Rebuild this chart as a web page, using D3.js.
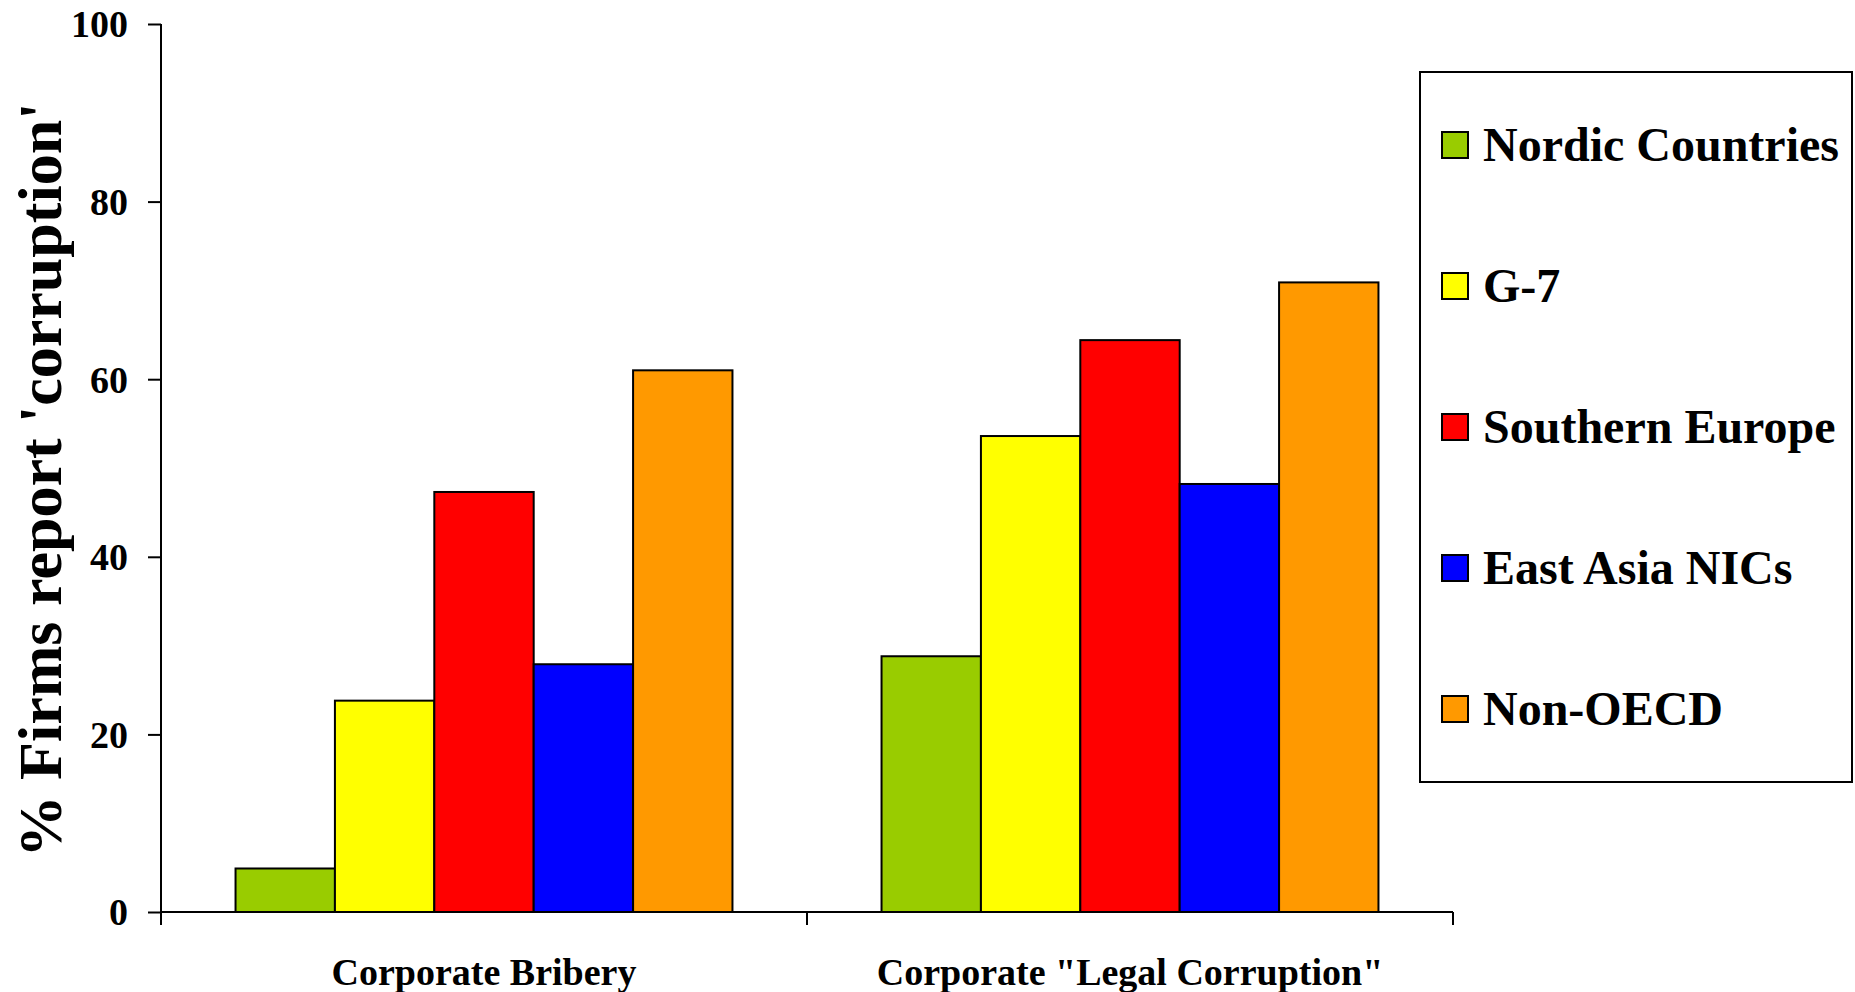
<!DOCTYPE html>
<html>
<head>
<meta charset="utf-8">
<script src="https://cdn.jsdelivr.net/npm/d3@7"></script>
<style>
  html, body { margin: 0; padding: 0; background: #ffffff; }
  svg { display: block; }
  text { font-family: "Times New Roman", "Liberation Serif", serif; font-weight: bold; fill: #000; }
</style>
</head>
<body>
<svg id="chart" width="1855" height="992"></svg>
<script>
// Survey groups (x categories)
const categories = ["Corporate Bribery", "Corporate \"Legal Corruption\""];

// Country groups (series) and their fill colours
const series = ["Nordic Countries", "G-7", "Southern Europe", "East Asia NICs", "Non-OECD"];
const seriesColors = ["#99CC00", "#FFFF00", "#FF0000", "#0000FF", "#FF9900"];

// % of firms reporting 'corruption', one array per series (values per category)
const nordicValues = [4.9, 28.8];
const g7Values = [23.8, 53.6];
const southernEuropeValues = [47.3, 64.4];
const eastAsiaValues = [27.9, 48.2];
const nonOecdValues = [61.0, 70.9];

const yTicks = [0, 20, 40, 60, 80, 100];
const yTitle = "% Firms report 'corruption'";

const valuesBySeries = [nordicValues, g7Values, southernEuropeValues, eastAsiaValues, nonOecdValues];

const svg = d3.select("#chart");

const plot = { left: 161, right: 1453, top: 24, bottom: 912 };

const x0 = d3.scaleBand()
  .domain(categories)
  .range([plot.left, plot.right])
  .paddingInner(0)
  .paddingOuter(0);

const x1 = d3.scaleBand()
  .domain(series)
  .range([0, x0.bandwidth()])
  .paddingInner(0)
  .paddingOuter(0.75);

const y = d3.scaleLinear()
  .domain([0, 100])
  .range([plot.bottom, plot.top]);

const color = d3.scaleOrdinal().domain(series).range(seriesColors);

// Bars
const rows = [];
categories.forEach((c, ci) => {
  series.forEach((s, si) => {
    rows.push({ category: c, series: s, value: valuesBySeries[si][ci] });
  });
});

svg.append("g")
  .selectAll("rect")
  .data(rows)
  .join("rect")
  .attr("x", d => x0(d.category) + x1(d.series))
  .attr("y", d => y(d.value))
  .attr("width", x1.bandwidth())
  .attr("height", d => y(0) - y(d.value))
  .attr("fill", d => color(d.series))
  .attr("stroke", "#000")
  .attr("stroke-width", 2);

// Y axis
const yAxis = d3.axisLeft(y)
  .tickValues(yTicks)
  .tickFormat(d3.format("d"))
  .tickSize(13)
  .tickPadding(20);

const gy = svg.append("g")
  .attr("transform", `translate(${plot.left},0)`)
  .call(yAxis);
gy.select(".domain").remove();
gy.selectAll(".tick line").attr("stroke", "#000").attr("stroke-width", 2);
gy.selectAll(".tick text")
  .style("font-size", "38px")
  .attr("dy", "0.34em");

// Y axis line (runs down to the category tick length)
svg.append("line")
  .attr("x1", plot.left).attr("x2", plot.left)
  .attr("y1", plot.top).attr("y2", plot.bottom + 13)
  .attr("stroke", "#000").attr("stroke-width", 2);

// X axis: baseline with ticks at category boundaries
const xAxis = d3.axisBottom(x0).tickSize(0).tickPadding(46);
const gx = svg.append("g")
  .attr("transform", `translate(0,${plot.bottom})`)
  .call(xAxis);
gx.select(".domain").remove();
gx.selectAll(".tick line").remove();
gx.selectAll(".tick text")
  .style("font-size", "38px")
  .attr("dy", "0.71em");

svg.append("line")
  .attr("x1", plot.left).attr("x2", plot.right)
  .attr("y1", plot.bottom).attr("y2", plot.bottom)
  .attr("stroke", "#000").attr("stroke-width", 2);

const boundaries = categories.map(c => x0(c)).concat([x0(categories[categories.length - 1]) + x0.bandwidth()]);
svg.append("g")
  .selectAll("line")
  .data(boundaries)
  .join("line")
  .attr("x1", d => d).attr("x2", d => d)
  .attr("y1", plot.bottom).attr("y2", plot.bottom + 13)
  .attr("stroke", "#000").attr("stroke-width", 2);

// Y axis title
svg.append("text")
  .attr("transform", `translate(61,${480}) rotate(-90)`)
  .attr("text-anchor", "middle")
  .style("font-size", "62px")
  .text(yTitle);

// Legend
const legend = svg.append("g");
legend.append("rect")
  .attr("x", 1420).attr("y", 72)
  .attr("width", 432).attr("height", 710)
  .attr("fill", "#fff")
  .attr("stroke", "#000").attr("stroke-width", 2);

const legendRow = d3.scalePoint().domain(series).range([145, 709]);

const items = legend.selectAll("g.item")
  .data(series)
  .join("g")
  .attr("class", "item")
  .attr("transform", d => `translate(0,${legendRow(d)})`);

items.append("rect")
  .attr("x", 1442).attr("y", -13)
  .attr("width", 26).attr("height", 26)
  .attr("fill", d => color(d))
  .attr("stroke", "#000").attr("stroke-width", 2);

items.append("text")
  .attr("x", 1483)
  .attr("y", 16)
  .style("font-size", "48px")
  .text(d => d);
</script>
</body>
</html>
